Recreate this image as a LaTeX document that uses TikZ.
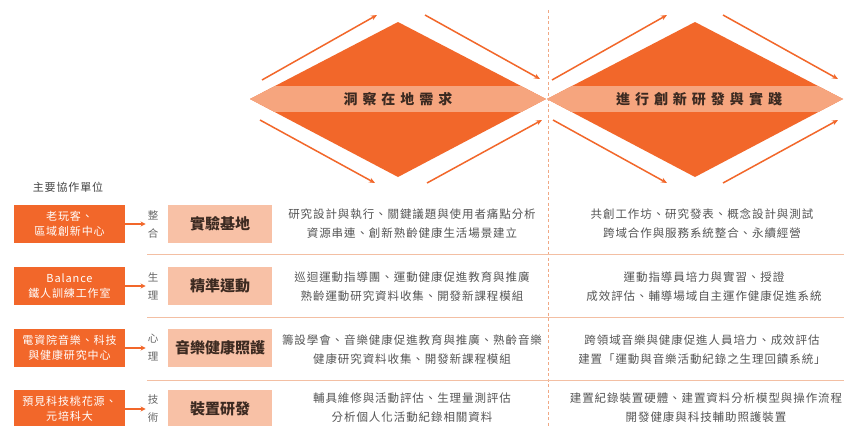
\documentclass[tikz,border=0pt]{standalone}
\usepackage{fontspec}
\setmainfont{Noto Sans CJK TC}
\newfontfamily\spfont[LetterSpace=8]{Noto Sans CJK TC}
\usetikzlibrary{arrows.meta}
\definecolor{orng}{HTML}{F2672A}
\definecolor{band}{HTML}{F6A57E}
\definecolor{pinkbox}{HTML}{F8C1A6}
\definecolor{sepline}{HTML}{F3BFA3}
\definecolor{dashc}{HTML}{F0A884}
\definecolor{darkt}{HTML}{3C2A21}
\definecolor{grayt}{HTML}{555555}
\tikzset{
  flowarrow/.style={draw=orng, line width=1.5pt, -{Stealth[length=6pt,width=5pt]}},
  unitbox/.style={fill=orng, minimum width=111pt, minimum height=38pt, inner sep=0pt, text=white, align=center, font=\spfont\fontsize{11}{15.5}\selectfont},
  fieldbox/.style={fill=pinkbox, minimum width=104pt, minimum height=38pt, inner sep=0pt, text=darkt, font=\bfseries\fontsize{15}{18}\selectfont},
  sidelbl/.style={text=grayt!90, align=center, inner sep=0pt, font=\fontsize{10.5}{18}\selectfont},
  desc/.style={text=grayt, align=center, inner sep=0pt, font=\spfont\fontsize{11.5}{19}\selectfont},
  linkarrow/.style={draw=orng, line width=1.3pt, -{Stealth[length=5pt,width=5pt]}, shorten >=2pt},
  sep/.style={draw=sepline, line width=0.9pt},
  phase/.style={text=darkt, inner sep=0pt, font=\bfseries\fontsize{14}{16}\selectfont}
}
\begin{document}
\begin{tikzpicture}[x=1pt,y=-1pt]
\useasboundingbox[fill=white] (0,0) rectangle (844,426);
% diamonds
\foreach \cx in {398,695}{
  \fill[orng] (\cx-148,99) -- (\cx,22) -- (\cx+148,99) -- (\cx,177) -- cycle;
  \begin{scope}
    \clip (\cx-148,99) -- (\cx,22) -- (\cx+148,99) -- (\cx,177) -- cycle;
    \fill[band] (\cx-150,86) rectangle (\cx+150,112);
  \end{scope}
}
\node[phase] (p1) at (398,99) {洞\kern5pt 察\kern5pt 在\kern5pt 地\kern5pt 需\kern5pt 求};
\node[phase] (p2) at (699,99) {進\kern5pt 行\kern5pt 創\kern5pt 新\kern5pt 研\kern5pt 發\kern5pt 與\kern5pt 實\kern5pt 踐};
% arrows around diamonds
\coordinate (a1s) at (262,80);  \coordinate (a1e) at (377,15);
\coordinate (a2s) at (425,15);  \coordinate (a2e) at (540,79);
\coordinate (a3s) at (260,120); \coordinate (a3e) at (375,183);
\coordinate (a4s) at (427,183); \coordinate (a4e) at (542,120);
\coordinate (b1s) at (552,80);  \coordinate (b1e) at (667,15);
\coordinate (b2s) at (723,15);  \coordinate (b2e) at (838,79);
\coordinate (b3s) at (553,120); \coordinate (b3e) at (667,183);
\coordinate (b4s) at (723,183); \coordinate (b4e) at (838,120);
\foreach \a in {a1,a2,a3,a4,b1,b2,b3,b4}{\draw[flowarrow] (\a s) -- (\a e);}
% dashed divider
\coordinate (dtop) at (548,10); \coordinate (dbot) at (548,428);
\draw[dashc, line width=1pt, dash pattern=on 3pt off 2.5pt] (dtop) -- (dbot);
% header
\node[text=grayt!80!black, inner sep=0pt, font=\spfont\fontsize{11}{12}\selectfont] (hdr) at (68,187) {主要協作單位};
% separators
\foreach \y in {254,317,380}{\draw[sep] (147,\y) -- (844,\y);}
% rows
\node[unitbox] (u1) at (69.5,224) {老玩客、\\區域創新中心};
\node[unitbox] (u2) at (69.5,286) {Balance\\鐵人訓練工作室};
\node[unitbox] (u3) at (69.5,348) {電資院音樂、科技\\與健康研究中心};
\node[unitbox] (u4) at (69.5,409) {預見科技桃花源、\\元培科大};
\node[sidelbl] (s1) at (153,224) {整\\合};
\node[sidelbl] (s2) at (153,286) {生\\理};
\node[sidelbl] (s3) at (153,348) {心\\理};
\node[sidelbl] (s4) at (153,409) {技\\術};
\node[fieldbox] (f1) at (220,224) {實驗基地};
\node[fieldbox] (f2) at (220,286) {精準運動};
\node[fieldbox] (f3) at (220,348) {音樂健康照護};
\node[fieldbox] (f4) at (220,409) {裝置研發};
\foreach \i in {1,2,3,4}{\draw[linkarrow] (u\i.east) -- (s\i.west);}
\node[desc] (m1) at (412,224) {研究設計與執行、關鍵議題與使用者痛點分析\\資源串連、創新熟齡健康生活場景建立};
\node[desc] (m2) at (412,287) {巡迴運動指導團、運動健康促進教育與推廣\\熟齡運動研究資料收集、開發新課程模組};
\node[desc] (m3) at (412,350) {籌設學會、音樂健康促進教育與推廣、熟齡音樂\\健康研究資料收集、開發新課程模組};
\node[desc] (m4) at (412,408) {輔具維修與活動評估、生理量測評估\\分析個人化活動紀錄相關資料};
\node[desc] (r1) at (702,224) {共創工作坊、研究發表、概念設計與測試\\跨域合作與服務系統整合、永續經營};
\node[desc] (r2) at (704,287) {運動指導員培力與實習、授證\\成效評估、輔導場域自主運作健康促進系統};
\node[desc] (r3) at (702,350) {跨領域音樂與健康促進人員培力、成效評估\\建置「運動與音樂活動紀錄之生理回饋系統」};
\node[desc] (r4) at (706,408) {建置紀錄裝置硬體、建置資料分析模型與操作流程\\開發健康與科技輔助照護裝置};
\end{tikzpicture}
\end{document}
